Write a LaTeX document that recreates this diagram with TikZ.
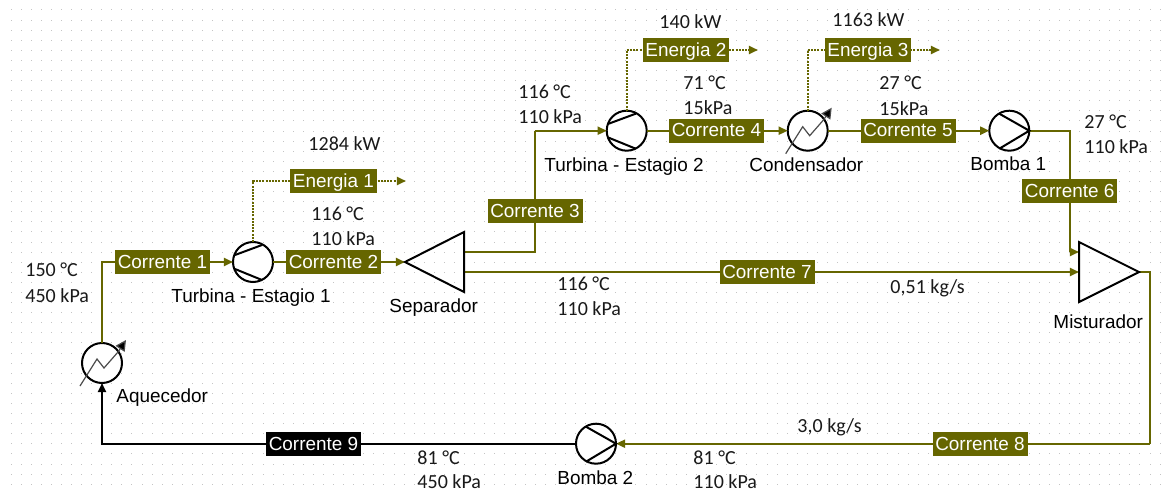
\documentclass[tikz,border=0pt]{standalone}
\usepackage{fontspec}
\setmainfont{Liberation Sans}
\newfontfamily\numfont{Carlito}
\usetikzlibrary{arrows.meta}
\definecolor{olivebox}{HTML}{666600}
\definecolor{griddot}{HTML}{C4C4C4}
\tikzset{
  stream/.style={draw=olivebox,line width=1.5pt},
  blackstream/.style={draw=black,line width=1.5pt},
  energy/.style={draw=olivebox,line width=1.5pt,dash pattern=on 1.5pt off 0.9pt},
  headtip/.style={-{Triangle[length=6.8pt,width=6pt,fill=olivebox]}},
  blacktip/.style={-{Triangle[length=6.8pt,width=6pt,fill=black]}},
  unit/.style={circle,draw=black,line width=1.5pt,fill=white,minimum size=30pt,inner sep=0pt,outer sep=0pt},
  tagbox/.style={fill=olivebox,text=white,minimum width=71.25pt,minimum height=18pt,inner sep=0pt,text height=12pt,text depth=2.6pt,font=\fontsize{14.2pt}{16pt}\selectfont},
  ebox/.style={tagbox,minimum width=65pt},
  blackbox/.style={tagbox,fill=black},
  nametext/.style={anchor=west,xshift=-0.6pt,inner sep=0pt,text=black,text height=10.2pt,text depth=0pt,font=\fontsize{14.2pt}{16pt}\selectfont},
  valtext/.style={anchor=west,xshift=-0.6pt,inner sep=0pt,text=black!90,text height=9.7pt,text depth=0pt,font=\numfont\fontsize{15pt}{17pt}\selectfont},
  icon/.style={draw=black,line width=1.5pt},
  pics/turbine/.style={code={
    \draw[icon] (-18,-7) -- (9,-17) (-18,7) -- (9,18);
  }},
  pics/pump/.style={code={
    \draw[icon] (-10,-17) -- (20,0) -- (-10,18);
  }},
  pics/exchanger/.style={code={
    \draw[draw=black!70,line width=0.9pt] (-22,23) -- (-5,-4) -- (2,5) -- (16,-11);
    \draw[draw=black!70,line width=0.9pt,-{Triangle[length=8pt,width=8pt,fill=black]}] (16,-11) -- (24,-23);
  }},
}
\begin{document}
\begin{tikzpicture}[x=0.75pt,y=-0.75pt]
\useasboundingbox (0,0) rectangle (1167,492);
\fill[white] (0,0) rectangle (1167,492);
\foreach \i in {0,...,115} {
  \foreach \j in {0,...,47} {
    \fill[griddot] ({11+10.08*\i-0.5},{10+10.09*\j-0.5}) rectangle +(1,1);
  }
}
% named points
\coordinate (sep) at (405,262);
\coordinate (septop) at (464,232);
\coordinate (sepbot) at (464,292);
\coordinate (sepa) at (464,252);
\coordinate (sepb) at (464,272);
\coordinate (mixtop) at (1079,242);
\coordinate (mixbot) at (1079,302);
\coordinate (mixa) at (1079,252);
\coordinate (mixb) at (1079,272);
\coordinate (mixout) at (1139,272);
\coordinate (c1c) at (102,262);
\coordinate (c3c) at (534.5,130.7);
\coordinate (c6c) at (1069.7,252);
\coordinate (c8c) at (1150,443.7);
\coordinate (e1end) at (406,181);
\coordinate (e2end) at (758,50);
\coordinate (e3end) at (940,50);
% units
\node[unit] (h1) at (102,363) {};
\node[unit] (t1) at (253,262) {};
\node[unit] (t2) at (626.7,130.7) {};
\node[unit] (c1) at (807.7,130.7) {};
\node[unit] (p1) at (1009.3,130.7) {};
\node[unit] (p2) at (596,443.7) {};
% connectors
\draw[stream,headtip] (h1.north) -- (c1c) -- (t1.west);
\draw[stream,headtip] (t1.east) -- (sep);
\draw[stream] (sepa) -| (c3c);
\draw[stream,headtip] (c3c) -- (t2.west);
\draw[stream,headtip] (t2.east) -- (c1.west);
\draw[stream,headtip] (c1.east) -- (p1.west);
\draw[stream] (p1.east) -| (c6c);
\draw[stream,headtip] (c6c) -- (mixa);
\draw[stream,headtip] (sepb) -- (mixb);
\draw[stream] (mixout) -| (c8c);
\draw[stream,headtip] (c8c) -- (p2.east);
\draw[blackstream,blacktip] (p2.west) -| (h1.south);
\draw[energy,headtip] (t1.north) |- (e1end);
\draw[energy,headtip] (t2.north) |- (e2end);
\draw[energy,headtip] (c1.north) |- (e3end);
% icons
\pic at (t1) {turbine};
\pic at (t2) {turbine};
\pic at (p1) {pump};
\pic at (p2) {pump};
\pic at (h1) {exchanger};
\pic at (c1) {exchanger};
\draw[icon,line join=miter] (sep) -- (septop) -- (sepbot) -- cycle;
\draw[icon,line join=miter] (mixout) -- (mixtop) -- (mixbot) -- cycle;
% stream tags
\node[tagbox] (s1) at (162.5,262) {Corrente 1};
\node[tagbox] (s2) at (333.5,262) {Corrente 2};
\node[tagbox] (s3) at (535,211) {Corrente 3};
\node[tagbox] (s4) at (716.5,130.7) {Corrente 4};
\node[tagbox] (s5) at (908,130.7) {Corrente 5};
\node[tagbox] (s6) at (1069.7,191) {Corrente 6};
\node[tagbox] (s7) at (767,272) {Corrente 7};
\node[tagbox] (s8) at (980,444) {Corrente 8};
\node[blackbox] (s9) at (313.5,444) {Corrente 9};
\node[ebox] (en1) at (333.5,181) {Energia 1};
\node[ebox] (en2) at (686,50) {Energia 2};
\node[ebox] (en3) at (868,50) {Energia 3};
% names
\node[nametext] (n1) at (172,296) {Turbina - Estagio 1};
\node[nametext] (n2) at (390,306) {Separador};
\node[nametext] (n3) at (117,396) {Aquecedor};
\node[nametext] (n4) at (545,165) {Turbina - Estagio 2};
\node[nametext] (n5) at (750,165) {Condensador};
\node[nametext] (n6) at (971,164) {Bomba 1};
\node[nametext] (n7) at (1054,322) {Misturador};
\node[nametext] (n8) at (558,478) {Bomba 2};
% values
\node[valtext] (v1) at (26,270) {150 °C};
\node[valtext] (v2) at (26,296.5) {450 kPa};
\node[valtext] (v3) at (312,214) {116 °C};
\node[valtext] (v4) at (312,239) {110 kPa};
\node[valtext] (v5) at (309,144) {1284 kW};
\node[valtext] (v6) at (418,458) {81 °C};
\node[valtext] (v7) at (418,482) {450 kPa};
\node[valtext] (v8) at (660,22) {140 kW};
\node[valtext] (v9) at (519,92) {116 °C};
\node[valtext] (v10) at (519,117) {110 kPa};
\node[valtext] (v11) at (684,83) {71 °C};
\node[valtext] (v12) at (684,108) {15kPa};
\node[valtext] (v13) at (833,20) {1163 kW};
\node[valtext] (v14) at (880,83) {27 °C};
\node[valtext] (v15) at (880,109) {15kPa};
\node[valtext] (v16) at (1085,122) {27 °C};
\node[valtext] (v17) at (1085,147) {110 kPa};
\node[valtext] (v18) at (558,284) {116 °C};
\node[valtext] (v19) at (558,309) {110 kPa};
\node[valtext] (v20) at (891,287) {0,51 kg/s};
\node[valtext] (v21) at (798,426) {3,0 kg/s};
\node[valtext] (v22) at (694,458) {81 °C};
\node[valtext] (v23) at (694,482) {110 kPa};
\end{tikzpicture}
\end{document}
